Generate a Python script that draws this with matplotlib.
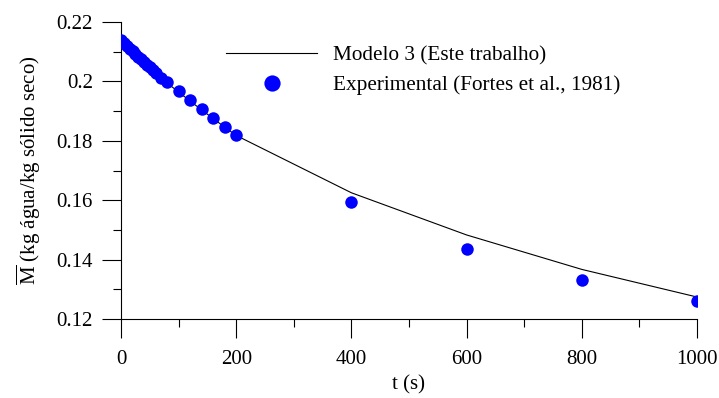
import matplotlib
matplotlib.use("Agg")
import matplotlib.pyplot as plt
from matplotlib.ticker import MultipleLocator

plt.rcParams['font.family'] = ['Liberation Serif', 'DejaVu Serif']
plt.rcParams['mathtext.fontset'] = 'custom'
plt.rcParams['mathtext.rm'] = 'Liberation Serif'
plt.rcParams['font.size'] = 15

# Modelo 3 (Este trabalho)
t_model = [0, 20, 40, 60, 80, 100, 120, 140, 160, 180, 200, 400, 600, 800, 1000]
m_model = [0.2140, 0.2095, 0.2060, 0.2027, 0.1995, 0.1964, 0.1934, 0.1904,
           0.1875, 0.1846, 0.1818, 0.1625, 0.1483, 0.1367, 0.1274]

# Experimental (Fortes et al., 1981)
t_exp = [0, 5, 10, 15, 20, 25, 30, 35, 40, 45, 50, 55, 60, 70, 80,
         100, 120, 140, 160, 180, 200, 400, 600, 800, 1000]
m_exp = [0.2140, 0.2128, 0.2119, 0.2110, 0.2101, 0.2092, 0.2083, 0.2074,
         0.2065, 0.2056, 0.2047, 0.2038, 0.2029, 0.2011, 0.1998,
         0.1968, 0.1936, 0.1906, 0.1876, 0.1848, 0.1820,
         0.1593, 0.1437, 0.1330, 0.1261]

fig = plt.figure(figsize=(7.19, 3.98), dpi=100)
ax = fig.add_axes([121 / 719, 1 - 319 / 398, 576 / 719, 297 / 398])

ax.plot(t_model, m_model, color='black', lw=0.8, label='Modelo 3 (Este trabalho)', zorder=2)
ax.plot(t_exp, m_exp, 'o', color='#0000ff', ms=9, mec='none',
        label='Experimental (Fortes et al., 1981)', zorder=3)

ax.set_xlim(0, 1000)
ax.set_ylim(0.12, 0.22)
ax.xaxis.set_minor_locator(MultipleLocator(100))
ax.yaxis.set_minor_locator(MultipleLocator(0.01))
ax.set_yticks([0.12, 0.14, 0.16, 0.18, 0.2, 0.22])
ax.set_yticklabels(['0.12', '0.14', '0.16', '0.18', '0.2', '0.22'])
ax.set_xticks([0, 200, 400, 600, 800, 1000])
ax.set_xticklabels(['0', '200', '400', '600', '800', '1000'])

for s in ['top', 'right']:
    ax.spines[s].set_visible(False)
for s in ['left', 'bottom']:
    ax.spines[s].set_linewidth(0.8)
ax.tick_params(which='major', direction='out', length=13.7, width=0.8, pad=6.5)
ax.tick_params(axis='x', which='major', pad=8.5)
ax.tick_params(which='minor', direction='out', length=6, width=0.8)

ax.set_xlabel('t (s)', labelpad=4.5)
ax.set_ylabel(r'$\overline{\mathrm{M}}$ (kg água/kg sólido seco)', labelpad=10)

leg = ax.legend(loc='upper left', bbox_to_anchor=(226 / 719, 1 - 45.5 / 398),
                bbox_transform=fig.transFigure, frameon=False, borderpad=0,
                borderaxespad=0, handlelength=4.3, handletextpad=0.75,
                labelspacing=0.47, markerscale=1.3, numpoints=1, fontsize=15.3)

fig.savefig('out.png', dpi=100)
